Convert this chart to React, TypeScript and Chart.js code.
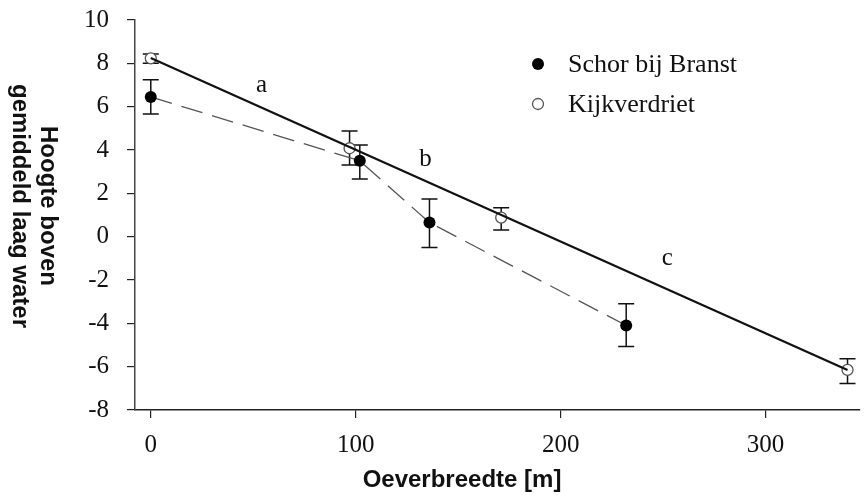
import React, { useEffect, useRef } from "react";
import { Chart, registerables } from "chart.js";

Chart.register(...registerables);

// ---- data ----
const xTickValues = [0, 100, 200, 300];

const branstX = [0, 102, 136, 232];
const branstY = [6.45, 3.5, 0.65, -4.1];
const branstHi = [7.24, 4.23, 1.74, -3.1];
const branstLo = [5.66, 2.66, -0.5, -5.07];

const kijkX = [0, 97, 171, 340];
const kijkY = [8.23, 4.08, 0.88, -6.15];
const kijkHi = [8.43, 4.88, 1.34, -5.64];
const kijkLo = [8.0, 3.31, 0.31, -6.78];

const fitX = [0, 340];
const fitY = [8.25, -6.15];

const segLabels = ["a", "b", "c"];
const segX = [54, 134, 252];
const segY = [7.0, 3.55, -1.0];

const legendLabels = ["Schor bij Branst", "Kijkverdriet"];
const yTitleLines = ["Hoogte boven", "gemiddeld laag water"];
const xTitle = "Oeverbreedte [m]";

const SERIF = "'Liberation Serif', 'Times New Roman', serif";
const SANS = "'Liberation Sans', Arial, sans-serif";

const extrasPlugin = {
  id: "extras",
  beforeDatasetsDraw(chart: any) {
    const { ctx, scales } = chart;
    const xs = scales.x, ys = scales.y;
    ctx.save();
    ctx.strokeStyle = "#111";
    ctx.lineWidth = 1.5;
    const drawErr = (X: number[], hi: number[], lo: number[]) => {
      X.forEach((xv, i) => {
        const px = xs.getPixelForValue(xv);
        const pt = ys.getPixelForValue(hi[i]);
        const pb = ys.getPixelForValue(lo[i]);
        ctx.beginPath();
        ctx.moveTo(px, pt); ctx.lineTo(px, pb);
        ctx.moveTo(px - 8, pt); ctx.lineTo(px + 8, pt);
        ctx.moveTo(px - 8, pb); ctx.lineTo(px + 8, pb);
        ctx.stroke();
      });
    };
    drawErr(branstX, branstHi, branstLo);
    drawErr(kijkX, kijkHi, kijkLo);
    ctx.restore();
  },
  afterDraw(chart: any) {
    const { ctx, scales } = chart;
    const xs = scales.x, ys = scales.y;
    ctx.save();
    // segment labels
    ctx.fillStyle = "#111";
    ctx.font = `25px ${SERIF}`;
    ctx.textAlign = "center";
    ctx.textBaseline = "middle";
    segLabels.forEach((t, i) => {
      ctx.fillText(t, xs.getPixelForValue(segX[i]), ys.getPixelForValue(segY[i]));
    });
    // legend
    ctx.textAlign = "left";
    ctx.font = `26px ${SERIF}`;
    const lx = 538, ly = [64, 104];
    ctx.beginPath();
    ctx.arc(lx, ly[0], 6, 0, Math.PI * 2);
    ctx.fillStyle = "#000";
    ctx.fill();
    ctx.beginPath();
    ctx.arc(lx, ly[1], 5.5, 0, Math.PI * 2);
    ctx.fillStyle = "#fff";
    ctx.fill();
    ctx.strokeStyle = "#555";
    ctx.lineWidth = 1.3;
    ctx.stroke();
    ctx.fillStyle = "#111";
    legendLabels.forEach((t, i) => ctx.fillText(t, 568, ly[i] + 1));
    // y title (rotated clockwise)
    ctx.font = `bold 24px ${SANS}`;
    ctx.textAlign = "center";
    ctx.textBaseline = "middle";
    const colX = [48, 20];
    yTitleLines.forEach((t, i) => {
      ctx.save();
      ctx.translate(colX[i], 206);
      ctx.rotate(Math.PI / 2);
      ctx.fillText(t, 0, 0);
      ctx.restore();
    });
    // x title
    ctx.font = `bold 24px ${SANS}`;
    ctx.fillText(xTitle, 462, 480);
    ctx.restore();
  },
};

export default function App() {
  const ref = useRef<HTMLCanvasElement | null>(null);
  useEffect(() => {
    document.body.style.margin = "0";
    const canvas = ref.current!;
    const chart = new Chart(canvas, {
      type: "scatter",
      data: {
        datasets: [
          {
            label: "fit",
            type: "line",
            data: fitX.map((x, i) => ({ x, y: fitY[i] })),
            borderColor: "#111",
            borderWidth: 2.2,
            pointRadius: 0,
            showLine: true,
            fill: false,
          },
          {
            label: legendLabels[0],
            type: "line",
            data: branstX.map((x, i) => ({ x, y: branstY[i] })),
            borderColor: "#555",
            borderWidth: 1.3,
            borderDash: [22, 10],
            showLine: true,
            fill: false,
            pointRadius: 6,
            pointBackgroundColor: "#000",
            pointBorderColor: "#000",
            pointBorderWidth: 0,
          },
          {
            label: legendLabels[1],
            data: kijkX.map((x, i) => ({ x, y: kijkY[i] })),
            showLine: false,
            pointRadius: 5.5,
            pointBackgroundColor: "#fff",
            pointBorderColor: "#555",
            pointBorderWidth: 1.3,
          },
        ],
      },
      options: {
        animation: false,
        responsive: false,
        maintainAspectRatio: false,
        layout: { padding: { top: 20, right: 0, left: 0, bottom: 0 } },
        plugins: { legend: { display: false }, tooltip: { enabled: false } },
        scales: {
          x: {
            type: "linear",
            min: -7.7,
            max: 345.7,
            afterBuildTicks: (s: any) => {
              s.ticks = xTickValues.map((v) => ({ value: v }));
            },
            afterFit: (s: any) => {
              s.height = 85;
              s.paddingTop = 0;
            },
            grid: { drawOnChartArea: false, drawTicks: true, tickLength: 8, color: "#222", lineWidth: 1.2 },
            border: { color: "#222", width: 1.5 },
            ticks: { color: "#111", font: { family: SERIF, size: 25 }, padding: 12, maxRotation: 0 },
          },
          y: {
            type: "linear",
            min: -8,
            max: 10,
            ticks: { stepSize: 2, color: "#111", font: { family: SERIF, size: 25 }, padding: 18 },
            afterFit: (s: any) => {
              s.width = 135;
              s.paddingTop = 0;
              s.paddingBottom = 0;
            },
            grid: { drawOnChartArea: false, drawTicks: true, tickLength: 8, color: "#222", lineWidth: 1.2 },
            border: { color: "#444", width: 1.5 },
          },
        },
      },
      plugins: [extrasPlugin],
    } as any);
    return () => chart.destroy();
  }, []);
  return (
    <div style={{ position: "absolute", left: 0, top: 0, width: 866, height: 495, background: "#fff" }}>
      <canvas ref={ref} width={866} height={495} style={{ width: 866, height: 495, display: "block" }} />
    </div>
  );
}
